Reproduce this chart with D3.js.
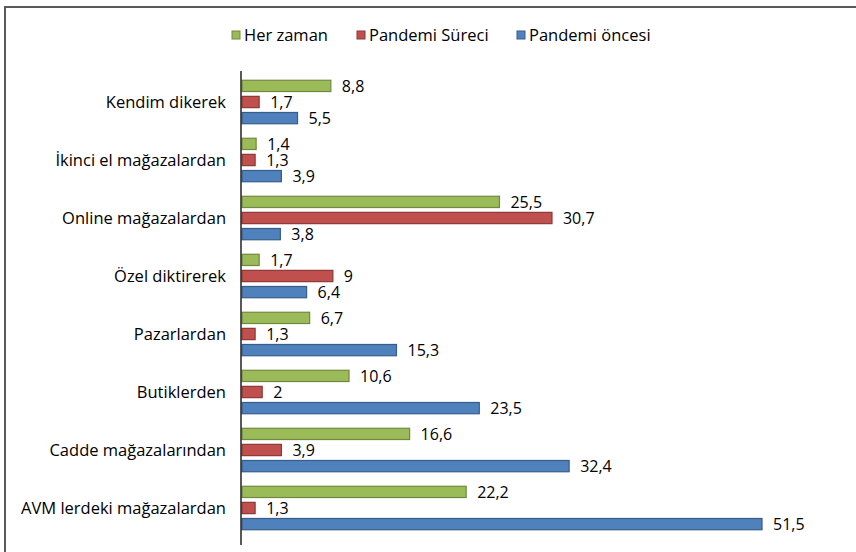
<!DOCTYPE html>
<html><head><meta charset="utf-8">
<script src="https://cdn.jsdelivr.net/npm/d3@7"></script>
<style>body{margin:0;background:#fff}svg{display:block}text{font-family:"Open Sans",sans-serif;fill:#000}</style>
</head><body><svg id="c" width="856" height="552"></svg>
<script>
const categories = ["Kendim dikerek","İkinci el mağazalardan","Online mağazalardan","Özel diktirerek","Pazarlardan","Butiklerden","Cadde mağazalarından","AVM lerdeki mağazalardan"];
const series = ["Her zaman","Pandemi Süreci","Pandemi öncesi"];
const herZaman = [8.8,1.4,25.5,1.7,6.7,10.6,16.6,22.2];
const pandemiSureci = [1.7,1.3,30.7,9,1.3,2,3.9,1.3];
const pandemiOncesi = [5.5,3.9,3.8,6.4,15.3,23.5,32.4,51.5];
const values = [herZaman, pandemiSureci, pandemiOncesi];
const fills = ["#9BBB59","#C0504D","#4F81BD"];
const strokes = ["#71893F","#8C3836","#385D8A"];
const fmt = v => String(v).replace(".", ",");

const svg = d3.select("#c");
svg.append("rect").attr("x",5).attr("y",7).attr("width",900).attr("height",600)
  .attr("fill","none").attr("stroke","#595959").attr("stroke-width",2);

const x = d3.scaleLinear().domain([0,51.5]).range([242,762]);
const y = d3.scaleBand().domain(categories).range([73,537]).paddingInner(0.25).paddingOuter(0.125);
const ys = d3.scaleBand().domain(series).range([0,y.bandwidth()]).paddingInner(0.3);

const g = svg.append("g");
series.forEach((s,si)=>{
  const gg = g.append("g");
  gg.selectAll("rect").data(categories).join("rect")
    .attr("x",x(0)).attr("y",(c)=>y(c)+ys(s))
    .attr("width",(c,i)=>x(values[si][i])-x(0)).attr("height",ys.bandwidth())
    .attr("fill",fills[si]).attr("stroke",strokes[si]).attr("stroke-width",1.2);
  gg.selectAll("text").data(categories).join("text")
    .attr("x",(c,i)=>x(values[si][i])+11).attr("y",(c)=>y(c)+ys(s)+ys.bandwidth()/2)
    .attr("dy","0.38em").attr("font-size",16).text((c,i)=>fmt(values[si][i]));
});

svg.append("line").attr("x1",241).attr("x2",241).attr("y1",71).attr("y2",545)
  .attr("stroke","#222").attr("stroke-width",1.5);

svg.append("g").selectAll("text").data(categories).join("text")
  .attr("x",226).attr("y",c=>y(c)+y.bandwidth()/2).attr("dy","0.38em")
  .attr("text-anchor","end").attr("font-size",16.5).text(c=>c);

const legX = [232,357,517];
const leg = svg.append("g");
series.forEach((s,i)=>{
  leg.append("rect").attr("x",legX[i]).attr("y",31).attr("width",8).attr("height",8)
    .attr("fill",fills[i]).attr("stroke",strokes[i]).attr("stroke-width",1);
  leg.append("text").attr("x",legX[i]+12).attr("y",35).attr("dy","0.38em").attr("font-size",16.5).text(s);
});
</script></body></html>
